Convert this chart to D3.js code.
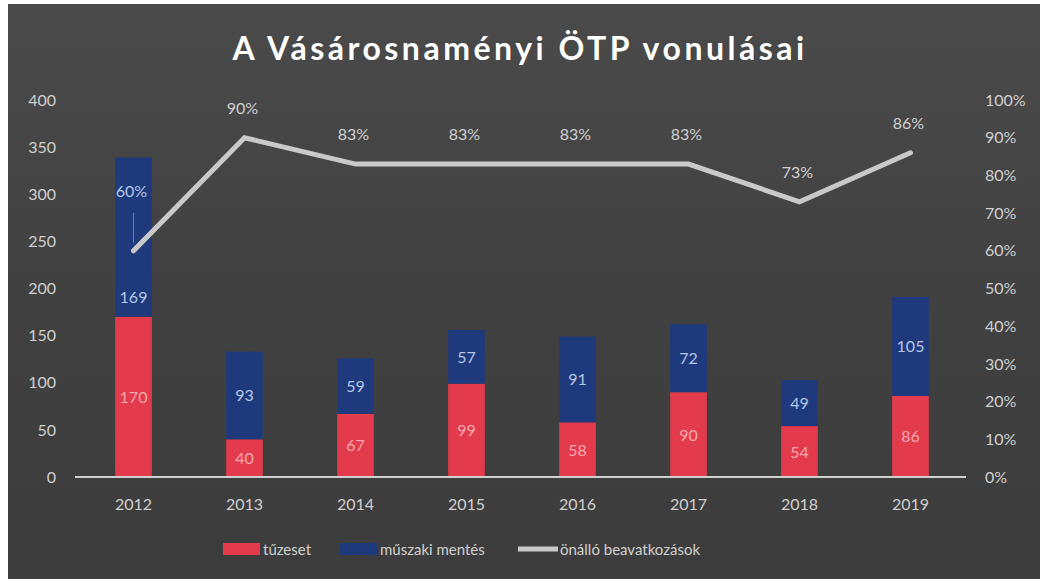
<!DOCTYPE html>
<html>
<head>
<meta charset="utf-8">
<script src="https://cdn.jsdelivr.net/npm/d3@7"></script>
<style>
body{margin:0;background:#fff;}
svg{display:block;}
</style>
</head>
<body>
<svg id="chart" width="1045" height="582"></svg>
<script>
// adatok
var years = ["2012","2013","2014","2015","2016","2017","2018","2019"];
var tuzeset = [170,40,67,99,58,90,54,86];
var muszaki = [169,93,59,57,91,72,49,105];
var onallo = [0.60,0.90,0.83,0.83,0.83,0.83,0.73,0.86];
var leftTicks = [0,50,100,150,200,250,300,350,400];
var rightTicks = [0,0.1,0.2,0.3,0.4,0.5,0.6,0.7,0.8,0.9,1];

var svg = d3.select("#chart");
var fnt = "Lato, 'Open Sans', sans-serif";

var defs = svg.append("defs");
var grad = defs.append("linearGradient").attr("id","bg").attr("x1",0).attr("y1",0).attr("x2",0).attr("y2",1);
grad.append("stop").attr("offset","0%").attr("stop-color","#4a4a4a");
grad.append("stop").attr("offset","50%").attr("stop-color","#414141");
grad.append("stop").attr("offset","100%").attr("stop-color","#3c3c3c");

svg.append("rect").attr("x",8).attr("y",4).attr("width",1032).attr("height",575).attr("fill","url(#bg)");

// cím
svg.append("text").attr("x",520).attr("y",60).attr("text-anchor","middle")
  .style("font-family",fnt).style("font-weight","bold").style("font-size","32px")
  .style("letter-spacing","3.5px").style("fill","#ffffff").text("A Vásárosnaményi ÖTP vonulásai");

var x = d3.scaleBand().domain(years).range([78,966]).paddingInner(0.67).paddingOuter(0.335);
var y = d3.scaleLinear().domain([0,400]).range([477,100]);
var y2 = d3.scaleLinear().domain([0,1]).range([477,100]);

// bal tengely
var gl = svg.append("g").attr("transform","translate(56,0)")
  .call(d3.axisLeft(y).tickValues(leftTicks).tickSize(0).tickPadding(0));
gl.select(".domain").remove();
gl.selectAll("text").style("font-family",fnt).style("font-size","16px").style("fill","#d0d0d0");

// jobb tengely
var gr = svg.append("g").attr("transform","translate(985,0)")
  .call(d3.axisRight(y2).tickValues(rightTicks).tickFormat(d3.format(".0%")).tickSize(0).tickPadding(0));
gr.select(".domain").remove();
gr.selectAll("text").style("font-family",fnt).style("font-size","16px").style("fill","#d0d0d0");

// x tengely
var gx = svg.append("g").attr("transform","translate(0,477)")
  .call(d3.axisBottom(x).tickSize(0).tickPadding(22));
gx.select(".domain").remove();
gx.selectAll("text").style("font-family",fnt).style("font-size","16px").style("fill","#d0d0d0");

var data = years.map(function(d,i){return {year:d,t:tuzeset[i],m:muszaki[i],p:onallo[i]};});

// oszlopok
svg.selectAll(".bt").data(data).enter().append("rect")
  .attr("x",function(d){return x(d.year);}).attr("width",x.bandwidth())
  .attr("y",function(d){return y(d.t);}).attr("height",function(d){return y(0)-y(d.t);})
  .attr("fill","#e33b4b");
svg.selectAll(".bm").data(data).enter().append("rect")
  .attr("x",function(d){return x(d.year);}).attr("width",x.bandwidth())
  .attr("y",function(d){return y(d.t+d.m);}).attr("height",function(d){return y(d.t)-y(d.t+d.m);})
  .attr("fill","#1f3a7c");

// tengelyvonal
svg.append("line").attr("x1",75).attr("x2",966).attr("y1",477).attr("y2",477)
  .style("stroke","#d0d0d0").style("stroke-width",2);

// feliratok az oszlopokon
svg.selectAll(".lt").data(data).enter().append("text")
  .attr("x",function(d){return x(d.year)+x.bandwidth()/2;})
  .attr("y",function(d){return y(d.t/2)+6;}).attr("text-anchor","middle")
  .style("font-family",fnt).style("font-size","16px").style("fill","#f4a9b0")
  .text(function(d){return d.t;});
svg.selectAll(".lm").data(data).enter().append("text")
  .attr("x",function(d){return x(d.year)+x.bandwidth()/2;})
  .attr("y",function(d){return d.year=="2012" ? y(d.t)-14 : y(d.t+d.m/2)+6;}).attr("text-anchor","middle")
  .style("font-family",fnt).style("font-size","16px").style("fill","#b4c6e6")
  .text(function(d){return d.m;});

// vonal
var line = d3.line().x(function(d){return x(d.year)+x.bandwidth()/2;}).y(function(d){return y2(d.p);});
svg.append("path").datum(data).attr("d",line).attr("fill","none")
  .style("stroke","#c9c9c9").style("stroke-width",5).style("stroke-linejoin","miter").style("stroke-linecap","round");

// vezető vonal 2012
svg.append("line").attr("x1",x("2012")+x.bandwidth()/2).attr("x2",x("2012")+x.bandwidth()/2)
  .attr("y1",y2(onallo[0])-38).attr("y2",y2(onallo[0])-8).style("stroke","#5b86c8").style("stroke-width",1);

svg.selectAll(".lp").data(data).enter().append("text")
  .attr("x",function(d){return x(d.year)+x.bandwidth()/2 - 2;})
  .attr("y",function(d){return d.year=="2012" ? y2(d.p)-54 : y2(d.p)-24;}).attr("text-anchor","middle")
  .style("font-family",fnt).style("font-size","16px")
  .style("fill",function(d){return d.year=="2012" ? "#b4c6e6" : "#d0d0d0";})
  .text(function(d){return Math.round(d.p*100)+"%";});

// jelmagyarázat
var legend = [
  {name:"tűzeset",type:"rect",color:"#e33b4b",x:223},
  {name:"műszaki mentés",type:"rect",color:"#1f3a7c",x:340},
  {name:"önálló beavatkozások",type:"line",color:"#c9c9c9",x:518}
];
var lg = svg.selectAll(".lg").data(legend).enter().append("g")
  .attr("transform",function(d){return "translate("+d.x+",549)";});
lg.filter(function(d){return d.type=="rect";}).append("rect")
  .attr("x",0).attr("y",-6).attr("width",37).attr("height",12).attr("fill",function(d){return d.color;});
lg.filter(function(d){return d.type=="line";}).append("line")
  .attr("x1",0).attr("x2",40).attr("y1",0).attr("y2",0).style("stroke",function(d){return d.color;}).style("stroke-width",5);
lg.append("text").attr("x",function(d){return d.type=="line" ? 42 : 40;}).attr("y",6)
  .style("font-family",fnt).style("font-size","15px").style("fill","#d0d0d0")
  .text(function(d){return d.name;});
</script>
</body>
</html>
